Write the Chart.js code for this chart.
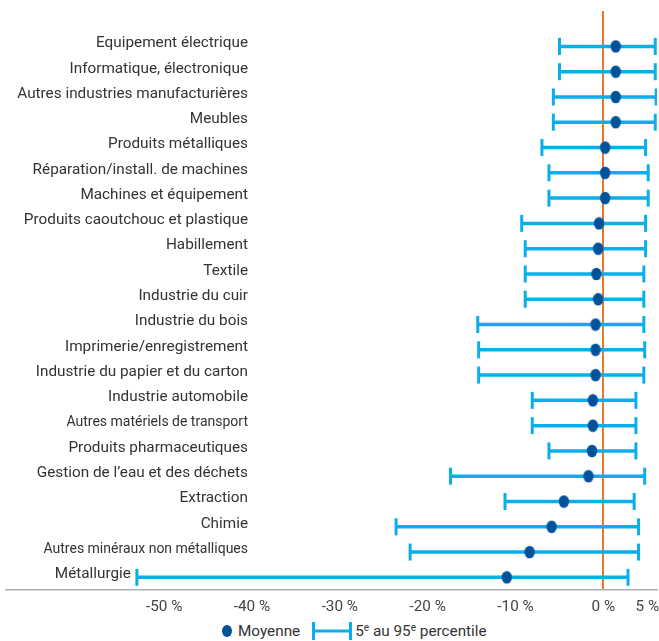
<!DOCTYPE html>
<html>
<head>
<meta charset="utf-8">
<script src="https://cdn.jsdelivr.net/npm/chart.js@4.4.1/dist/chart.umd.min.js"></script>
<style>
  html, body { margin: 0; padding: 0; background: #fff; overflow: hidden; }
  #wrap { position: relative; width: 659px; height: 641px; overflow: hidden; }
  #chartBox { position: absolute; left: 0; top: 0; width: 659px; height: 620px; }
  #legend {
    position: absolute; top: 620px; left: 222px; height: 21px;
    display: flex; align-items: center;
    font: 15.3px Roboto, sans-serif; color: #333;
  }
  #legend .dot { display: inline-block; width: 10px; height: 12px; border-radius: 50%; background: #00529B; margin-right: 6px; }
  #legend svg { margin: 0 3px 0 12px; }
  #legend sup { font-size: 10px; vertical-align: 5px; line-height: 0; }
</style>
</head>
<body>
<div id="wrap">
  <div id="chartBox"><canvas id="intervalChart"></canvas></div>
  <div id="legend">
    <span class="dot"></span><span>Moyenne</span>
    <svg width="40" height="18"><g stroke="#0AAEEA" stroke-width="3"><line x1="1.5" y1="0" x2="1.5" y2="18"/><line x1="1.5" y1="9" x2="38.5" y2="9"/><line x1="38.5" y1="0" x2="38.5" y2="18"/></g></svg>
    <span>5<sup>e</sup> au 95<sup>e</sup> percentile</span>
  </div>
</div>
<script>
const categories = [
  "Equipement électrique",
  "Informatique, électronique",
  "Autres industries manufacturières",
  "Meubles",
  "Produits métalliques",
  "Réparation/install. de machines",
  "Machines et équipement",
  "Produits caoutchouc et plastique",
  "Habillement",
  "Textile",
  "Industrie du cuir",
  "Industrie du bois",
  "Imprimerie/enregistrement",
  "Industrie du papier et du carton",
  "Industrie automobile",
  "Autres matériels de transport",
  "Produits pharmaceutiques",
  "Gestion de l’eau et des déchets",
  "Extraction",
  "Chimie",
  "Autres minéraux non métalliques",
  "Métallurgie",
];
const meanValues = [1.4, 1.4, 1.4, 1.4, 0.2, 0.2, 0.2, -0.5, -0.6, -0.8, -0.6, -0.9, -0.9, -0.9, -1.2, -1.2, -1.3, -1.7, -4.5, -5.9, -8.4, -11.0];
const p5Values = [-5.0, -5.0, -5.7, -5.7, -7.0, -6.2, -6.2, -9.3, -8.9, -8.9, -8.9, -14.3, -14.2, -14.2, -8.1, -8.1, -6.2, -17.4, -11.2, -23.6, -22.0, -53.1];
const p95Values = [5.9, 5.9, 6.0, 5.9, 4.8, 5.1, 5.1, 4.8, 4.8, 4.6, 4.6, 4.6, 4.7, 4.6, 3.7, 3.7, 3.7, 4.7, 3.5, 4.0, 4.0, 2.8];
const xTicks = [-50, -40, -30, -20, -10, 0, 5];

// these two labels are set tighter in the original
const narrowLabels = ["Autres matériels de transport", "Autres minéraux non métalliques"];

const LABEL_FONT = "Roboto";
const FONT_SIZE = 15.3;
const NARROW_SIZE = 14;
const LABEL_RIGHT = 248; // right edge of the category labels
const BAR_COLOR = "#0AAEEA";
const DOT_COLOR = "#00529B";
const ZERO_COLOR = "#E8772E";

// slightly oval marker for the mean
const dotImg = document.createElement("canvas");
dotImg.width = 12;
dotImg.height = 14;
const dctx = dotImg.getContext("2d");
dctx.fillStyle = DOT_COLOR;
dctx.beginPath();
dctx.ellipse(6, 7, 5.2, 6.3, 0, 0, Math.PI * 2);
dctx.fill();

const meanPoints = meanValues.map((v, i) => ({ x: v, y: i }));
const capPoints = [];
const rangePoints = [];
categories.forEach((c, i) => {
  capPoints.push({ x: p5Values[i], y: i }, { x: p95Values[i], y: i });
  rangePoints.push({ x: p5Values[i], y: i }, { x: p95Values[i], y: i }, { x: p95Values[i], y: null });
});

function noPadding(scale) {
  scale.paddingLeft = 0;
  scale.paddingRight = 0;
  scale.paddingTop = 0;
  scale.paddingBottom = 0;
}

// category names sit inside the plot, right-aligned, and step left of a bar that reaches under them
const categoryLabels = {
  id: "categoryLabels",
  afterDraw(chart) {
    const { ctx, scales: { x, y } } = chart;
    ctx.save();
    ctx.fillStyle = "#333";
    ctx.textAlign = "right";
    ctx.textBaseline = "middle";
    categories.forEach((c, i) => {
      const size = narrowLabels.includes(c) ? NARROW_SIZE : FONT_SIZE;
      ctx.font = size + "px " + LABEL_FONT;
      const right = Math.min(LABEL_RIGHT, x.getPixelForValue(p5Values[i]) - 6);
      ctx.fillText(c, right, y.getPixelForValue(i) - 3);
    });
    ctx.restore();
  },
};

const ctx = document.getElementById("intervalChart").getContext("2d");
new Chart(ctx, {
  type: "scatter",
  data: {
    datasets: [
      {
        label: "Moyenne",
        data: meanPoints,
        pointStyle: dotImg,
        pointRadius: 6,
        order: 0,
      },
      {
        label: "caps",
        data: capPoints,
        pointStyle: "line",
        rotation: 90,
        pointRadius: 8.5,
        borderColor: BAR_COLOR,
        borderWidth: 3,
        order: 1,
      },
      {
        type: "line",
        label: "5e au 95e percentile",
        data: rangePoints,
        borderColor: BAR_COLOR,
        borderWidth: 3.5,
        pointRadius: 0,
        spanGaps: false,
        fill: false,
        order: 2,
      },
    ],
  },
  options: {
    responsive: true,
    maintainAspectRatio: false,
    animation: false,
    layout: { autoPadding: false, padding: { left: 6, right: 2, top: 11, bottom: 0 } },
    plugins: {
      legend: { display: false },
      tooltip: { enabled: false },
    },
    scales: {
      x: {
        type: "linear",
        min: -68,
        max: 6.1,
        afterBuildTicks: (scale) => {
          scale.ticks = xTicks.map((v) => ({ value: v }));
        },
        afterFit: (scale) => {
          scale.height = 30;
          noPadding(scale);
        },
        ticks: {
          padding: 8,
          color: "#444",
          font: { family: LABEL_FONT, size: FONT_SIZE },
          callback: (v) => v + " %",
        },
        grid: {
          drawTicks: false,
          color: (c) => (c.tick && c.tick.value === 0 ? ZERO_COLOR : "rgba(0,0,0,0)"),
          lineWidth: 2,
        },
        border: { display: true, color: "#A9B0B7", width: 1.5 },
      },
      y: {
        type: "linear",
        reverse: true,
        min: -1.4,
        max: 21.5,
        afterBuildTicks: (scale) => {
          scale.ticks = categories.map((c, i) => ({ value: i }));
        },
        afterFit: (scale) => {
          scale.width = 0;
          noPadding(scale);
        },
        ticks: { display: false },
        grid: { display: false, drawTicks: false },
        border: { display: false },
      },
    },
  },
  plugins: [categoryLabels],
});
</script>
</body>
</html>
